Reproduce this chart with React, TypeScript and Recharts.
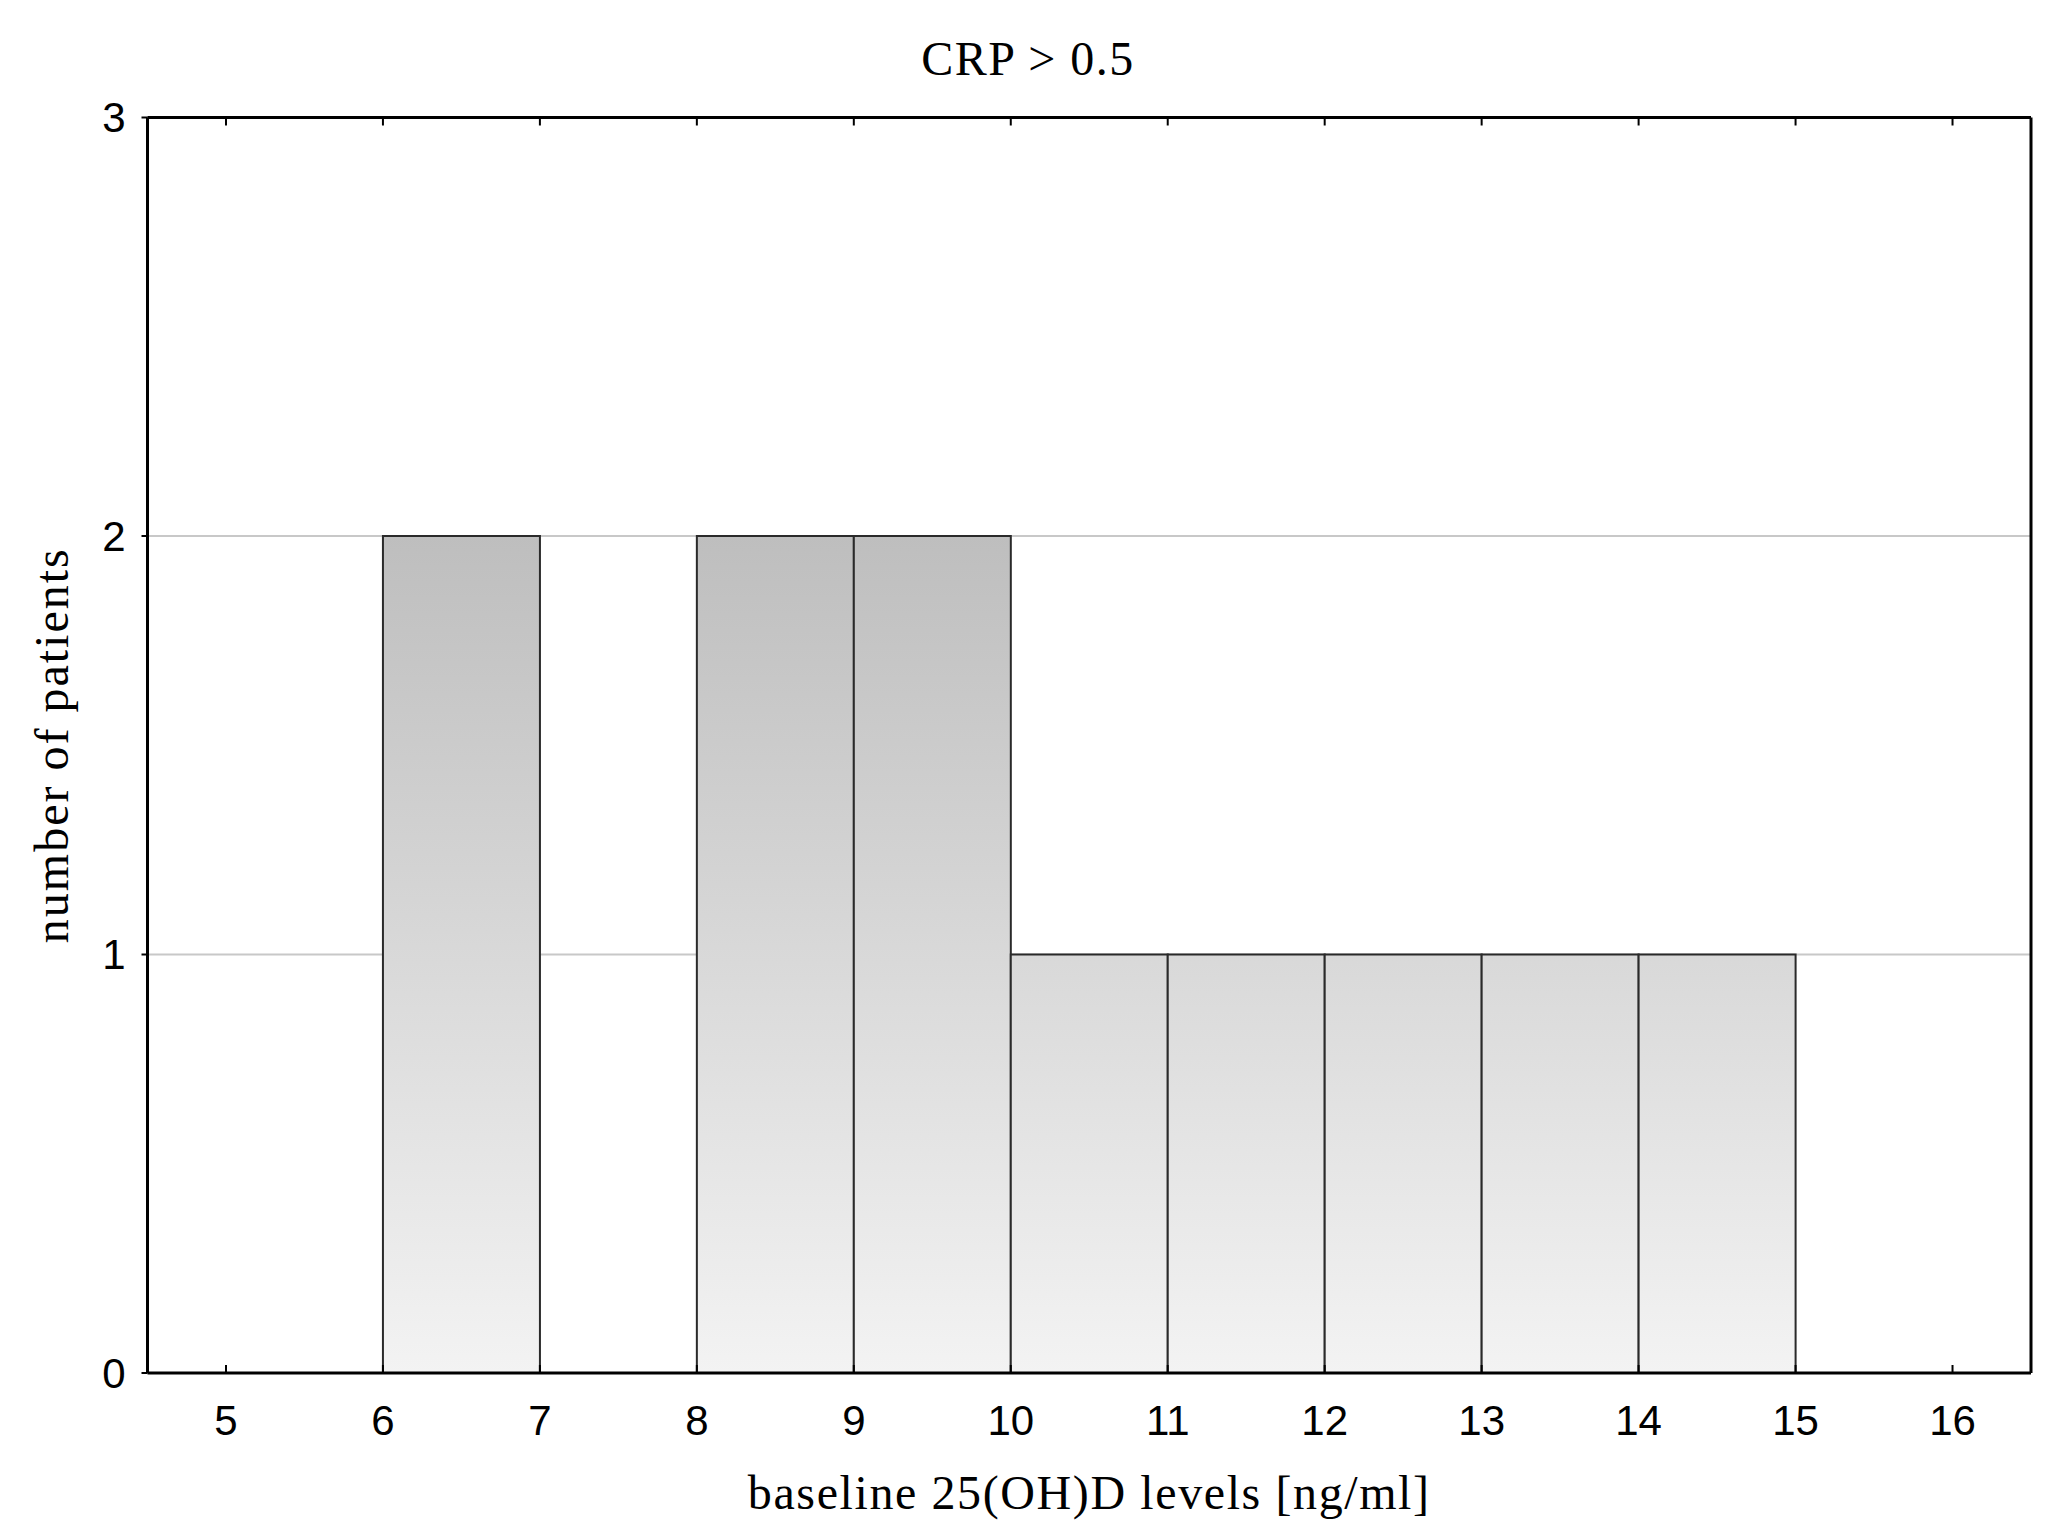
import React from 'react'
import { BarChart, Bar, XAxis, YAxis, CartesianGrid, Label } from 'recharts'

// histogram bins: [start, start + 1) in ng/ml
const binStarts = [5, 6, 7, 8, 9, 10, 11, 12, 13, 14, 15]
const patients = [0, 2, 0, 2, 2, 1, 1, 1, 1, 1, 0]
const xTicks = [5, 6, 7, 8, 9, 10, 11, 12, 13, 14, 15, 16]
const yTicks = [0, 1, 2, 3]

const data = binStarts.map((b, i) => ({ bin: b, count: patients[i] }))

const SERIF = '"Liberation Serif", "Times New Roman", serif'
const SANS = '"Liberation Sans", Arial, sans-serif'

const W = 2039
const H = 1513
const M = { top: 109.5, right: 16, left: 0, bottom: 0 }
const Y_AXIS_W = 139.5
const X_AXIS_H = 148
const PLOT_W = W - M.left - M.right - Y_AXIS_W
const HALF_UNIT = PLOT_W / 12 / 2 // domain is 4.5 .. 16.5
const PLOT_TOP = M.top
const PLOT_BOTTOM = H - M.bottom - X_AXIS_H

const noLabel = () => <g />

export default function App() {
  return (
    <div style={{ position: 'relative', width: W, height: H, background: '#fff' }}>
      <div
        style={{
          position: 'absolute',
          left: 1020,
          top: 27,
          transform: 'translateX(-50%)',
          fontFamily: SERIF,
          fontSize: 48,
          letterSpacing: 1.5,
          lineHeight: 1,
          whiteSpace: 'nowrap',
          color: '#000',
        }}
      >
        CRP &gt; 0.5
      </div>
      <BarChart width={W} height={H} data={data} margin={M} barCategoryGap={0} barGap={0}>
        <defs>
          <linearGradient id="barFill" gradientUnits="userSpaceOnUse" x1="0" y1={PLOT_TOP} x2="0" y2={PLOT_BOTTOM}>
            <stop offset="0.3333" stopColor="#bebebe" />
            <stop offset="1" stopColor="#f3f3f3" />
          </linearGradient>
        </defs>
        <CartesianGrid vertical={false} stroke="#c8c8c8" strokeWidth={2} />
        <XAxis
          dataKey="bin"
          type="number"
          domain={[4.5, 16.5]}
          ticks={xTicks}
          interval={0}
          allowDataOverflow
          height={X_AXIS_H}
          axisLine={{ stroke: '#000', strokeWidth: 3 }}
          tickLine={false}
          tickSize={-8}
          tickMargin={40}
          tick={{ fontSize: 42, fill: '#000', fontFamily: SANS }}
        >
          <Label
            value="baseline 25(OH)D levels [ng/ml]"
            position="insideBottom"
            offset={12}
            fontSize={48}
            fontFamily={SERIF}
            fill="#000"
            letterSpacing={1.6}
          />
        </XAxis>
        {/* small inward ticks on the bottom edge */}
        <XAxis
          xAxisId="bottomTicks"
          orientation="bottom"
          mirror
          dataKey="bin"
          type="number"
          domain={[4.5, 16.5]}
          ticks={xTicks}
          interval={0}
          allowDataOverflow
          axisLine={false}
          tickLine={{ stroke: '#000', strokeWidth: 2 }}
          tickSize={8}
          tick={noLabel}
        />
        {/* top frame with inward ticks */}
        <XAxis
          xAxisId="top"
          orientation="top"
          mirror
          dataKey="bin"
          type="number"
          domain={[4.5, 16.5]}
          ticks={xTicks}
          interval={0}
          allowDataOverflow
          axisLine={{ stroke: '#000', strokeWidth: 3 }}
          tickLine={{ stroke: '#000', strokeWidth: 2 }}
          tickSize={8}
          tick={noLabel}
        />
        <XAxis
          xAxisId="bins"
          dataKey="bin"
          type="category"
          hide
          padding={{ left: HALF_UNIT, right: HALF_UNIT }}
        />
        <YAxis
          domain={[0, 3]}
          ticks={yTicks}
          interval={0}
          width={Y_AXIS_W}
          allowDataOverflow
          axisLine={{ stroke: '#000', strokeWidth: 3 }}
          tickLine={{ stroke: '#000', strokeWidth: 2 }}
          tickSize={6}
          tickMargin={16}
          tick={{ fontSize: 42, fill: '#000', fontFamily: SANS }}
        >
          <Label
            value="number of patients"
            position="insideLeft"
            angle={-90}
            offset={43}
            fontSize={48}
            fontFamily={SERIF}
            fill="#000"
            letterSpacing={2}
            style={{ textAnchor: 'middle' }}
          />
        </YAxis>
        <YAxis
          yAxisId="right"
          orientation="right"
          mirror
          domain={[0, 3]}
          ticks={yTicks}
          allowDataOverflow
          axisLine={{ stroke: '#000', strokeWidth: 3 }}
          tickLine={false}
          tick={false}
        />
        <Bar
          dataKey="count"
          xAxisId="bins"
          fill="url(#barFill)"
          stroke="#2a2a2a"
          strokeWidth={2}
          isAnimationActive={false}
        />
      </BarChart>
    </div>
  )
}
